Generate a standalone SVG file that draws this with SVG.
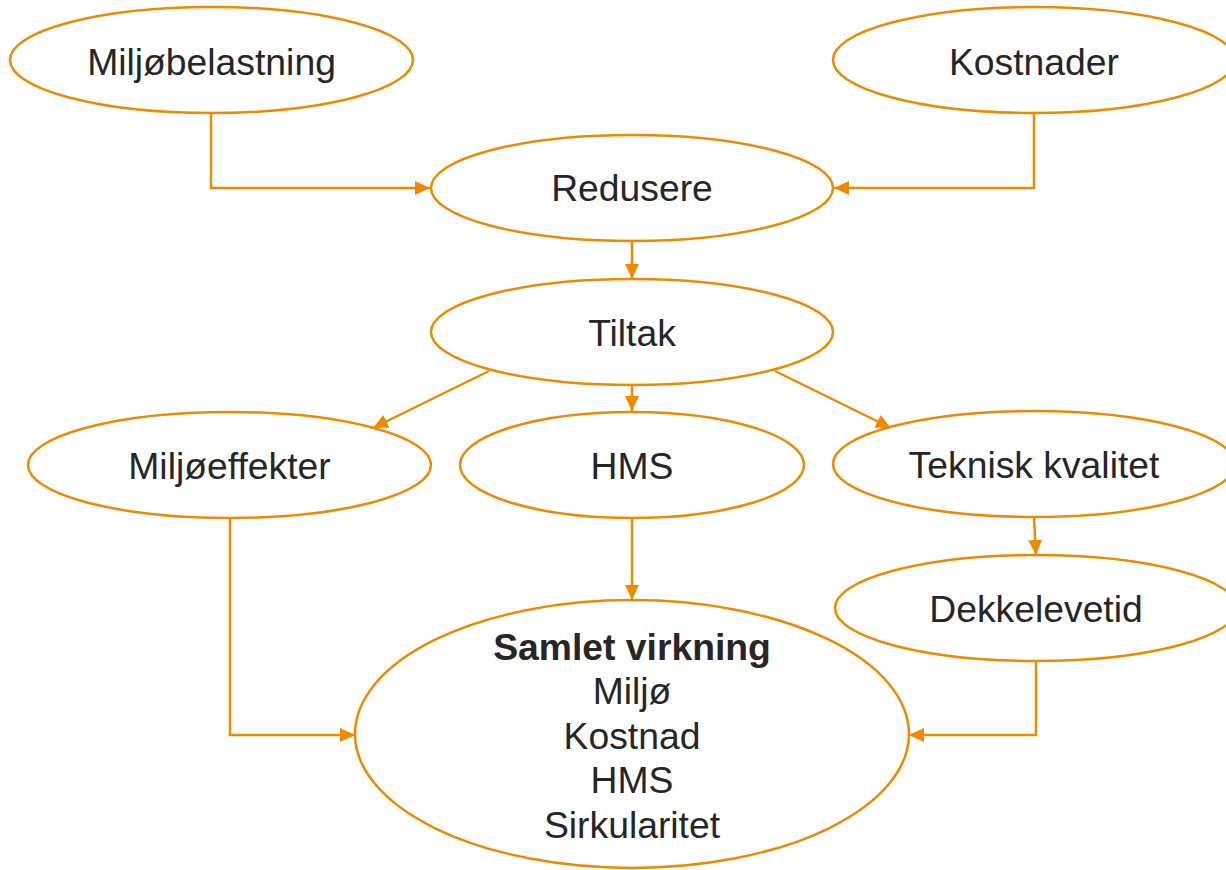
<svg xmlns="http://www.w3.org/2000/svg" width="1226" height="870" viewBox="0 0 1226 870">
<style>
.n{fill:#fff;stroke:#EE8A00;stroke-width:2.5}
.t{font-family:"Liberation Sans",Arial,sans-serif;font-size:37.3px;fill:#262626;text-anchor:middle}
.b{font-weight:bold}
.c{fill:none;stroke:#EE8A00;stroke-width:2.5}
</style>
<defs>
<marker id="a" markerUnits="userSpaceOnUse" markerWidth="16" markerHeight="14" refX="15" refY="7" orient="auto">
<path d="M0,0 L15,7 L0,14 Z" fill="#EE8A00"/>
</marker>
</defs>
<rect width="1226" height="870" fill="#fff"/>
<g id="connectors">
<polyline class="c" points="211,113 211,188 430,188" marker-end="url(#a)"/>
<polyline class="c" points="1034,113 1034,188 834,188" marker-end="url(#a)"/>
<line class="c" x1="632" y1="241" x2="632" y2="279" marker-end="url(#a)"/>
<line class="c" x1="489" y1="371" x2="373" y2="428" marker-end="url(#a)"/>
<line class="c" x1="632" y1="386" x2="632" y2="411" marker-end="url(#a)"/>
<line class="c" x1="775" y1="371" x2="891" y2="428" marker-end="url(#a)"/>
<polyline class="c" points="230,518 230,735 355,735" marker-end="url(#a)"/>
<line class="c" x1="632" y1="518" x2="632" y2="600" marker-end="url(#a)"/>
<line class="c" x1="1034" y1="518" x2="1036" y2="555" marker-end="url(#a)"/>
<polyline class="c" points="1036,662 1036,735 909,735" marker-end="url(#a)"/>
</g>
<g id="miljobelastning">
<ellipse class="n" cx="211.5" cy="60" rx="201.5" ry="53"/>
<text class="t" x="211.5" y="75">Miljøbelastning</text>
</g>
<g id="kostnader">
<ellipse class="n" cx="1034" cy="60" rx="201" ry="53"/>
<text class="t" x="1034" y="75">Kostnader</text>
</g>
<g id="redusere">
<ellipse class="n" cx="632" cy="188" rx="201" ry="53"/>
<text class="t" x="632" y="201">Redusere</text>
</g>
<g id="tiltak">
<ellipse class="n" cx="632" cy="332" rx="201" ry="53"/>
<text class="t" x="632" y="346">Tiltak</text>
</g>
<g id="miljoeffekter">
<ellipse class="n" cx="229.5" cy="465" rx="201.5" ry="53"/>
<text class="t" x="229.5" y="479">Miljøeffekter</text>
</g>
<g id="hms">
<ellipse class="n" cx="632" cy="465" rx="172" ry="53"/>
<text class="t" x="632" y="479">HMS</text>
</g>
<g id="teknisk">
<ellipse class="n" cx="1034" cy="464" rx="201" ry="53"/>
<text class="t" x="1034" y="478">Teknisk kvalitet</text>
</g>
<g id="dekkelevetid">
<ellipse class="n" cx="1036" cy="608" rx="201" ry="53"/>
<text class="t" x="1036" y="622">Dekkelevetid</text>
</g>
<g id="samlet">
<ellipse class="n" cx="632" cy="734" rx="277" ry="134"/>
<text class="t b" x="632" y="660">Samlet virkning</text>
<text class="t" x="632" y="704">Miljø</text>
<text class="t" x="632" y="749">Kostnad</text>
<text class="t" x="632" y="793">HMS</text>
<text class="t" x="632" y="838">Sirkularitet</text>
</g>
</svg>
